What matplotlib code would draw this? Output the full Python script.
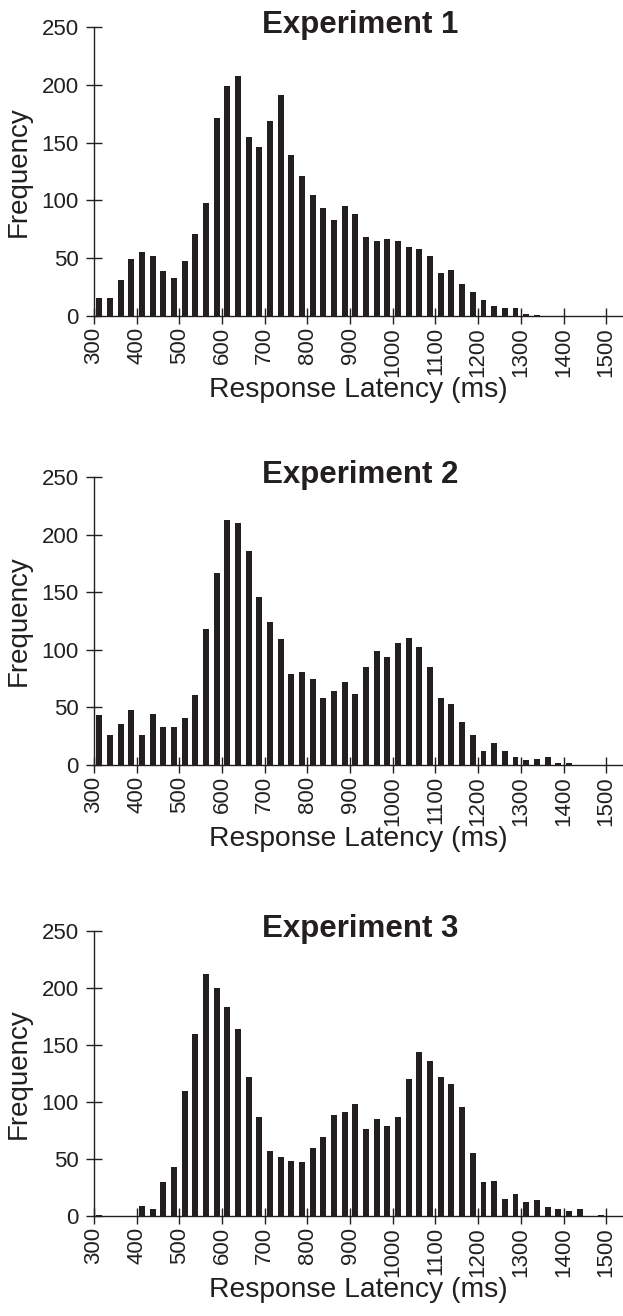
import numpy as np
import matplotlib.pyplot as plt

plt.rcParams['font.family'] = ['Liberation Sans', 'DejaVu Sans']

# 25 ms bins starting at 300 ms
bin_start = 300
bin_w = 25

exp1 = [16, 16, 31, 49, 55, 52, 39, 33, 48, 71,
        98, 171, 199, 208, 155, 146, 169, 191, 139, 121,
        105, 93, 83, 95, 88, 68, 65, 67, 65, 60,
        58, 52, 37, 40, 28, 21, 14, 9, 7, 7,
        2, 1]
exp2 = [43, 26, 36, 48, 26, 44, 33, 33, 41, 61,
        118, 167, 213, 210, 186, 146, 124, 109, 79, 81,
        75, 58, 64, 72, 62, 85, 99, 94, 106, 110,
        102, 85, 58, 53, 37, 26, 12, 19, 12, 7,
        4, 5, 7, 2, 2]
exp3 = [1, 0, 0, 0, 9, 6, 30, 43, 110, 160,
        212, 200, 183, 164, 122, 87, 57, 52, 48, 47,
        60, 69, 89, 91, 98, 76, 85, 79, 87, 120,
        144, 136, 122, 116, 96, 55, 30, 31, 15, 19,
        12, 14, 8, 6, 4, 6, 0, 1]

data = [exp1, exp2, exp3]
titles = ['Experiment 1', 'Experiment 2', 'Experiment 3']
xticks = np.arange(300, 1501, 100)
yticks = [0, 50, 100, 150, 200, 250]

W, H = 623, 1316
fig = plt.figure(figsize=(W / 100, H / 100), dpi=100)

# (left, top, bottom, right) in pixels for each panel
boxes = [(94, 27, 316, 622), (94, 477, 765, 622), (94, 931, 1216, 622)]
col = '#231f20'

for vals, title, (l, t, b, r) in zip(data, titles, boxes):
    ax = fig.add_axes([l / W, 1 - b / H, (r - l) / W, (b - t) / H])
    vals = np.array(vals)
    centers = bin_start + bin_w * (np.arange(len(vals)) + 0.5)
    ax.bar(centers, vals, width=14, color=col, linewidth=0)

    ax.set_xlim(300, 1537)
    ax.set_ylim(0, 250)
    ax.set_xticks(xticks)
    ax.set_xticklabels([str(v) for v in xticks], rotation=90, fontsize=16)
    ax.set_yticks(yticks)
    ax.set_yticklabels([str(v) for v in yticks], fontsize=16)
    ax.tick_params(axis='both', direction='inout', length=12, width=1, color=col, labelcolor=col)
    ax.tick_params(axis='x', pad=2)
    ax.tick_params(axis='y', pad=5)

    for s in ['top', 'right']:
        ax.spines[s].set_visible(False)
    for s in ['left', 'bottom']:
        ax.spines[s].set_linewidth(1)
        ax.spines[s].set_color(col)

    # title sits just below the top of the y axis
    ax.text(0.505, 1 - 6 / (b - t), title, transform=ax.transAxes, ha='center',
            va='baseline', fontsize=22.5, fontweight='bold', color=col)
    ax.set_xlabel('Response Latency (ms)', fontsize=20.3, color=col, labelpad=0)
    ax.set_ylabel('Frequency', fontsize=20, color=col, labelpad=7)

fig.savefig('out.png', dpi=100)
